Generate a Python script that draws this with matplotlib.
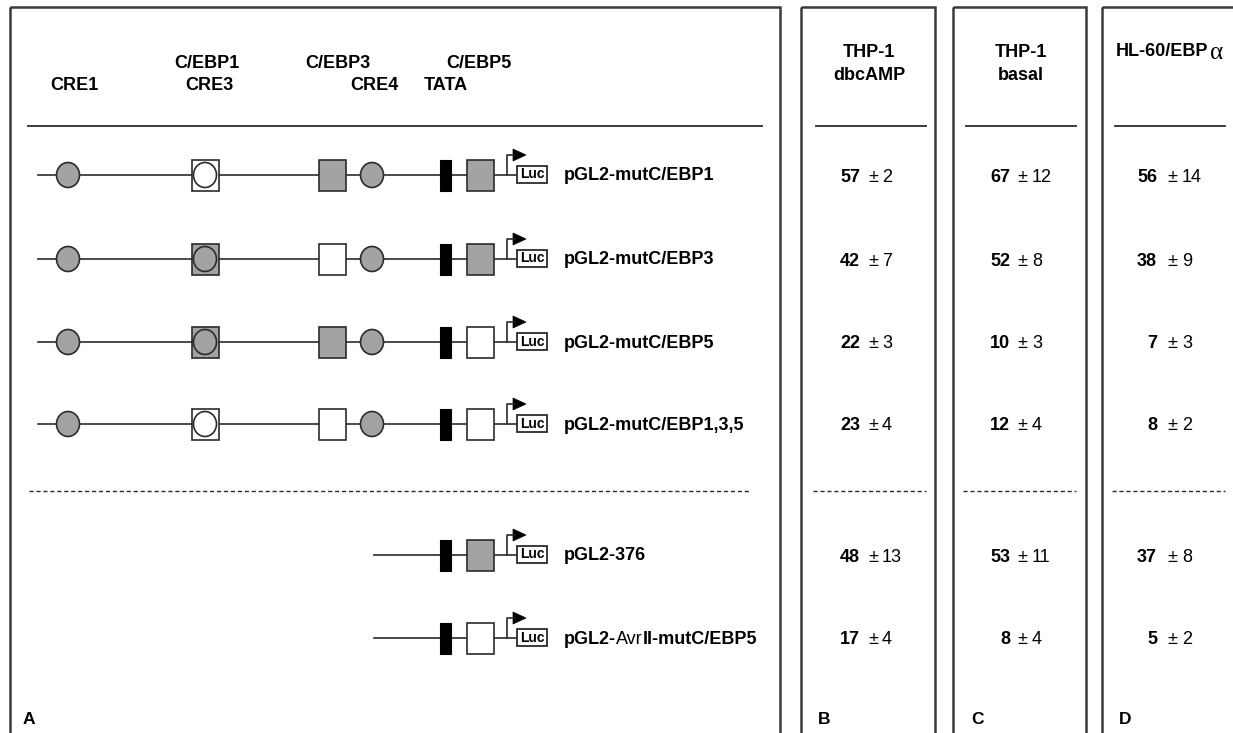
import matplotlib
matplotlib.use("Agg")
import matplotlib.pyplot as plt
from matplotlib.patches import Rectangle, Ellipse, Polygon

plt.rcParams['font.family'] = ['Liberation Sans', 'DejaVu Sans']

# constructs and the state of each site (True = wild type, False = mutated)
constructs = ['pGL2-mutC/EBP1', 'pGL2-mutC/EBP3', 'pGL2-mutC/EBP5',
              'pGL2-mutC/EBP1,3,5', 'pGL2-376', 'pGL2-AvrII-mutC/EBP5']
full_length = [True, True, True, True, False, False]
cebp1_wt = [False, True, True, False, None, None]
cebp3_wt = [True, False, True, False, None, None]
cebp5_wt = [True, True, False, False, True, False]

# relative luciferase activity, mean and SD
column_titles = ['THP-1\ndbcAMP', 'THP-1\nbasal', 'HL-60/EBP']
thp1_dbcamp = [57, 42, 22, 23, 48, 17]
thp1_dbcamp_sd = [2, 7, 3, 4, 13, 4]
thp1_basal = [67, 52, 10, 12, 53, 8]
thp1_basal_sd = [12, 8, 3, 4, 11, 4]
hl60_cebpa = [56, 38, 7, 8, 37, 5]
hl60_cebpa_sd = [14, 9, 3, 2, 8, 2]

site_labels = [('CRE1', 74, 86), ('C/EBP1', 207, 63), ('CRE3', 209, 86),
               ('C/EBP3', 338, 63), ('CRE4', 374, 86),
               ('C/EBP5', 479, 63), ('TATA', 446, 86)]

GREY = '#a3a3a3'
EDGE = '#2b2b2b'
FS = 13

row_y = [175, 259, 342, 424, 555, 638]

fig = plt.figure(figsize=(12.33, 7.33), dpi=100)
ax = fig.add_axes([0, 0, 1, 1])
ax.set_xlim(0, 1233)
ax.set_ylim(733, 0)
ax.axis('off')

# panel frames
for x0, x1 in [(10, 780), (801, 935), (953, 1086), (1102, 1250)]:
    ax.add_patch(Rectangle((x0, 7), x1 - x0, 760, fill=False, lw=1.8,
                           ec='#3a3a3a'))

for text, x, y in site_labels:
    ax.text(x, y, text, ha='center', va='center', fontsize=FS,
            fontweight='bold')
ax.plot([28, 762], [126, 126], color=EDGE, lw=1.3)
ax.plot([29, 750], [491, 491], color=EDGE, lw=1.0, ls=(0, (3, 2)))


def circle(x, y, fc):
    ax.add_patch(Ellipse((x, y), 23, 25, fc=fc, ec=EDGE, lw=1.2, zorder=3))


def square(x, y, fc):
    ax.add_patch(Rectangle((x - 13.5, y - 15.5), 27, 31, fc=fc, ec=EDGE,
                           lw=1.2, zorder=3))


for i, name in enumerate(constructs):
    y = row_y[i]
    x_start = 38 if full_length[i] else 374
    ax.plot([x_start, 517], [y, y], color=EDGE, lw=1.2, zorder=1)
    if full_length[i]:
        circle(68, y, GREY)
        fc = GREY if cebp1_wt[i] else 'white'
        square(205, y, fc)
        circle(205, y, fc)
        square(332, y, GREY if cebp3_wt[i] else 'white')
        circle(372, y, GREY)
    # TATA box
    ax.add_patch(Rectangle((440, y - 15.5), 11, 31, fc='black', ec='black',
                           lw=0.8, zorder=3))
    square(480, y, GREY if cebp5_wt[i] else 'white')
    # transcription start arrow and reporter
    ax.plot([507, 507, 514], [y, y - 20, y - 20], color=EDGE, lw=1.2)
    ax.add_patch(Polygon([(513, y - 26), (513, y - 14), (526, y - 20)],
                         closed=True, fc='black', ec='black', lw=0.5))
    ax.add_patch(Rectangle((517, y - 9), 30, 17, fc='white', ec=EDGE,
                           lw=1.3, zorder=3))
    ax.text(532, y - 0.5, 'Luc', ha='center', va='center', fontsize=10,
            fontweight='bold', zorder=4)
    if name == 'pGL2-AvrII-mutC/EBP5':
        t = ax.text(564, y + 1, 'pGL2-', ha='left', va='center', fontsize=FS,
                    fontweight='bold')
        t = ax.annotate('Avr', xycoords=t, xy=(1, 0), va='bottom',
                        fontsize=FS)
        ax.annotate('II-mutC/EBP5', xycoords=t, xy=(1, 0), va='bottom',
                    fontsize=FS, fontweight='bold')
    else:
        ax.text(564, y + 1, name, ha='left', va='center', fontsize=FS,
                fontweight='bold')

# result columns
columns = [(869, 816, 926, 860, 873, 882, thp1_dbcamp, thp1_dbcamp_sd),
           (1021, 966, 1076, 1010, 1022, 1032, thp1_basal, thp1_basal_sd),
           (1163, 1115, 1225, 1157, 1172, 1182, hl60_cebpa, hl60_cebpa_sd)]
for j, (cx, lx0, lx1, nx, px, sx, means, sds) in enumerate(columns):
    if j < 2:
        ax.text(cx, 64, column_titles[j], ha='center', va='center',
                fontsize=FS, fontweight='bold', linespacing=1.5)
    else:
        t = ax.text(1116, 51, column_titles[j], ha='left', va='center',
                    fontsize=FS, fontweight='bold')
        ax.annotate('α', xycoords=t, xy=(1, 0), xytext=(1, -3.5),
                    textcoords='offset points', va='bottom', fontsize=18,
                    family=['Liberation Serif', 'DejaVu Serif'])
    ax.plot([lx0, lx1], [126, 126], color=EDGE, lw=1.3)
    ax.plot([lx0 - 3, lx1], [491, 491], color=EDGE, lw=1.0, ls=(0, (3, 2)))
    for i in range(len(constructs)):
        y = row_y[i] + 2
        ax.text(nx, y, str(means[i]), ha='right', va='center', fontsize=FS,
                fontweight='bold')
        ax.text(px, y, '±', ha='center', va='center', fontsize=FS)
        ax.text(sx, y, str(sds[i]), ha='left', va='center', fontsize=FS)

for letter, x in [('A', 29), ('B', 824), ('C', 977), ('D', 1125)]:
    ax.text(x, 719, letter, ha='center', va='center', fontsize=12.5,
            fontweight='bold')

fig.savefig('out.png', dpi=100, facecolor='white')
